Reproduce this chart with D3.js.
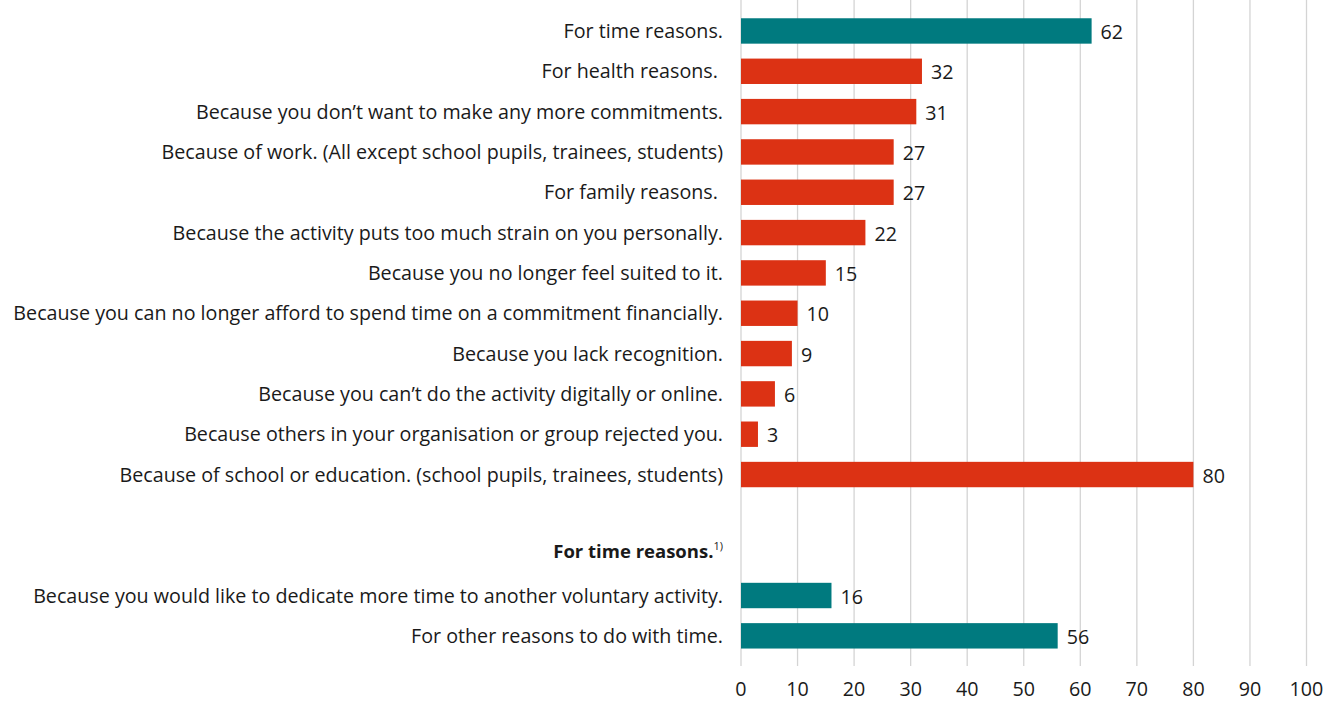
<!DOCTYPE html>
<html>
<head>
<meta charset="utf-8">
<script src="https://cdn.jsdelivr.net/npm/d3@7"></script>
<style>
  html, body { margin: 0; padding: 0; background: #fff; }
  svg text { font-family: "Open Sans", "Noto Sans", sans-serif; fill: #1a1a1a; white-space: pre; }
</style>
</head>
<body>
<svg id="chart" width="1338" height="701"></svg>
<script>
// Reasons for ending a voluntary activity (percent)
const categories = [
  "For time reasons.",
  "For health reasons. ",
  "Because you don\u2019t want to make any more commitments.",
  "Because of work. (All except school pupils, trainees, students)",
  "For family reasons. ",
  "Because the activity puts too much strain on you personally.",
  "Because you no longer feel suited to it.",
  "Because you can no longer afford to spend time on a commitment financially.",
  "Because you lack recognition.",
  "Because you can\u2019t do the activity digitally or online.",
  "Because others in your organisation or group rejected you.",
  "Because of school or education. (school pupils, trainees, students)",
  "",
  "For time reasons.",
  "Because you would like to dedicate more time to another voluntary activity.",
  "For other reasons to do with time."
];
const values = [62, 32, 31, 27, 27, 22, 15, 10, 9, 6, 3, 80, null, null, 16, 56];
const groups = ["time", "other", "other", "other", "other", "other", "other", "other", "other", "other", "other", "other", "blank", "heading", "time", "time"];
const xTicks = [0, 10, 20, 30, 40, 50, 60, 70, 80, 90, 100];
const colors = { time: "#007a7f", other: "#dc3214" };

const FS = 19.7;
const svg = d3.select("#chart");
const x = d3.scaleLinear().domain([0, 100]).range([741, 1306.5]);
const y = d3.scaleBand().domain(d3.range(categories.length)).range([10.8, 656]).paddingInner(0.37).paddingOuter(0.185);

// vertical gridlines
svg.append("g").selectAll("line").data(xTicks).join("line")
  .attr("x1", d => x(d)).attr("x2", d => x(d))
  .attr("y1", 0).attr("y2", 666)
  .attr("stroke", "#d4d4d4").attr("stroke-width", 1.3);

// x-axis tick labels
svg.append("g").selectAll("text").data(xTicks).join("text")
  .attr("x", d => x(d)).attr("y", 696)
  .attr("text-anchor", "middle").attr("font-size", FS)
  .text(d => d);

const rows = categories.map((c, i) => ({ c, v: values[i], g: groups[i], i }));

// bars
svg.append("g").selectAll("rect").data(rows.filter(d => d.v != null)).join("rect")
  .attr("x", x(0)).attr("y", d => y(d.i))
  .attr("width", d => x(d.v) - x(0)).attr("height", y.bandwidth())
  .attr("fill", d => colors[d.g]);

// value labels
svg.append("g").selectAll("text").data(rows.filter(d => d.v != null)).join("text")
  .attr("x", d => x(d.v) + 9).attr("y", d => y(d.i) + y.bandwidth() / 2 + 8)
  .attr("font-size", FS)
  .text(d => d.v);

// category labels
const lab = svg.append("g").selectAll("text").data(rows.filter(d => d.c !== "")).join("text")
  .attr("x", 723).attr("y", d => y(d.i) + y.bandwidth() / 2 + 7)
  .attr("text-anchor", "end").attr("font-size", FS);
lab.each(function (d) {
  const t = d3.select(this);
  if (d.g === "heading") {
    t.attr("font-weight", "bold").attr("font-size", 18.5).attr("y", y(d.i) + y.bandwidth() / 2 + 3);
    t.append("tspan").text(d.c);
    t.append("tspan").attr("font-size", 11).attr("font-weight", "normal").attr("dy", -8).text("1)");
  } else {
    t.text(d.c);
  }
});
</script>
</body>
</html>
